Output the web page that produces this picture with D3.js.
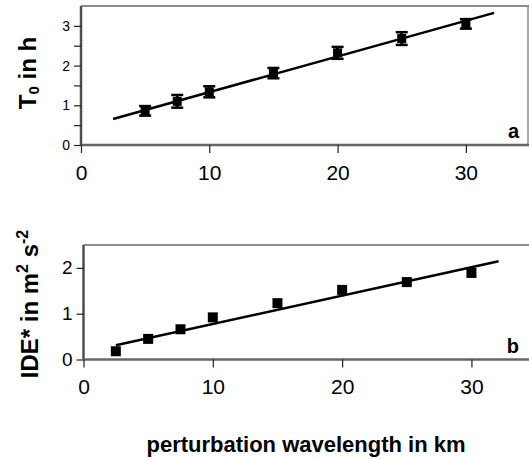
<!DOCTYPE html>
<html>
<head>
<meta charset="utf-8">
<script src="https://cdn.jsdelivr.net/npm/d3@7"></script>
<style>
  body { margin: 0; background: #fff; }
  svg { display: block; font-family: "Liberation Sans", Arial, sans-serif; }
</style>
</head>
<body>
<svg id="chart" width="529" height="459"></svg>
<script>
// panel a: T0 vs wavelength (with error bars)
var wlA = [5, 7.5, 10, 15, 20, 25, 30];
var t0 = [0.86, 1.10, 1.34, 1.81, 2.32, 2.68, 3.05];
var t0Err = [0.12, 0.16, 0.14, 0.13, 0.15, 0.16, 0.12];
var fitA = { slope: 0.09, intercept: 0.43, from: 2.5, to: 32.2 };

// panel b: IDE* vs wavelength
var wlB = [2.5, 5, 7.5, 10, 15, 20, 25, 30];
var ide = [0.18, 0.45, 0.66, 0.92, 1.23, 1.52, 1.69, 1.89];
var fitB = { slope: 0.062, intercept: 0.155, from: 2.5, to: 32.1 };

var xTicks = [0, 10, 20, 30];
var yTicksA = [0, 0.5, 1, 1.5, 2, 2.5, 3];
var yTicksB = [0, 1, 2];

var svg = d3.select("#chart");

function panel(opt) {
  var x = d3.scaleLinear().domain([0, 35]).range([opt.left, opt.left + 449 * opt.xs]);
  var y = d3.scaleLinear().domain([0, opt.ymax]).range([opt.bottom, opt.top]);
  var g = svg.append("g");

  // frame (top / right)
  g.append("line").attr("x1", opt.left).attr("x2", 529).attr("y1", opt.top).attr("y2", opt.top)
    .attr("stroke", "#8c8c8c").attr("stroke-width", 2);
  if (opt.rightBorder) {
    g.append("line").attr("x1", 528).attr("x2", 528).attr("y1", opt.top).attr("y2", opt.bottom)
      .attr("stroke", "#8c8c8c").attr("stroke-width", 1.5);
  }

  // y axis
  var ya = g.append("g").attr("transform", "translate(" + opt.left + ",0)")
    .call(d3.axisLeft(y).tickValues(opt.yTicks).tickSize(7).tickPadding(4)
      .tickFormat(function(d) { return d % 1 === 0 ? d : ""; }));
  ya.select(".domain").attr("stroke", "#4d4d4d").attr("stroke-width", 2.5)
    .attr("d", "M0," + opt.bottom + "V" + opt.top);
  ya.selectAll(".tick line").attr("stroke", "#222").attr("stroke-width", 1.2);
  ya.selectAll(".tick text").attr("font-size", opt.yFont).attr("fill", "#000");

  // x axis
  var xa = g.append("g").attr("transform", "translate(0," + opt.bottom + ")")
    .call(d3.axisBottom(x).tickValues(xTicks).tickSize(8).tickPadding(opt.xPad));
  xa.select(".domain").attr("stroke", "#666").attr("stroke-width", 2.5)
    .attr("d", "M" + opt.left + ",0H529");
  xa.selectAll(".tick line").attr("stroke", "#222").attr("stroke-width", 1.2);
  xa.selectAll(".tick text").attr("font-size", 21).attr("fill", "#000");

  // trend line
  g.append("line")
    .attr("x1", x(opt.fit.from)).attr("y1", y(opt.fit.intercept + opt.fit.slope * opt.fit.from))
    .attr("x2", x(opt.fit.to)).attr("y2", y(opt.fit.intercept + opt.fit.slope * opt.fit.to))
    .attr("stroke", "#000").attr("stroke-width", 2.5);

  // error bars
  if (opt.err) {
    var eb = g.selectAll(".err").data(opt.xs_data).enter().append("g");
    eb.append("line")
      .attr("x1", function(d) { return x(d); }).attr("x2", function(d) { return x(d); })
      .attr("y1", function(d, i) { return y(opt.ys[i] - opt.err[i]); })
      .attr("y2", function(d, i) { return y(opt.ys[i] + opt.err[i]); })
      .attr("stroke", "#000").attr("stroke-width", 3);
    [-1, 1].forEach(function(s) {
      eb.append("line")
        .attr("x1", function(d) { return x(d) - 6; }).attr("x2", function(d) { return x(d) + 6; })
        .attr("y1", function(d, i) { return y(opt.ys[i] + s * opt.err[i]); })
        .attr("y2", function(d, i) { return y(opt.ys[i] + s * opt.err[i]); })
        .attr("stroke", "#000").attr("stroke-width", 2.5);
    });
  }

  // markers
  g.selectAll(".pt").data(opt.xs_data).enter().append("rect")
    .attr("x", function(d) { return x(d) - opt.ms / 2; })
    .attr("y", function(d, i) { return y(opt.ys[i]) - opt.ms / 2; })
    .attr("width", opt.ms).attr("height", opt.ms)
    .attr("fill", "#000");

  // panel letter
  g.append("text").attr("x", 519).attr("y", opt.letterY).attr("text-anchor", "end")
    .attr("font-size", 20).attr("font-weight", "bold").text(opt.letter);
}

panel({ left: 81, top: 6, bottom: 145, ymax: 3.5, xs: 1, yTicks: yTicksA, yFont: 14, xPad: 12,
  xs_data: wlA, ys: t0, err: t0Err, fit: fitA, ms: 9, letter: "a", letterY: 138, rightBorder: true });
panel({ left: 83.5, top: 245, bottom: 359.5, ymax: 2.5, xs: 1.008, yTicks: yTicksB, yFont: 19, xPad: 12,
  xs_data: wlB, ys: ide, err: null, fit: fitB, ms: 10, letter: "b", letterY: 353, rightBorder: false });

// y labels
var ylA = svg.append("text").attr("transform", "translate(36,73) rotate(-90)")
  .attr("text-anchor", "middle").attr("font-size", 24).attr("font-weight", "bold");
ylA.append("tspan").text("T");
ylA.append("tspan").attr("font-size", 15).attr("dy", 3).text("0");
ylA.append("tspan").attr("dy", -3).text(" in h");

var ylB = svg.append("text").attr("transform", "translate(38,304) rotate(-90)")
  .attr("text-anchor", "middle").attr("font-size", 24).attr("font-weight", "bold");
ylB.append("tspan").text("IDE* in m");
ylB.append("tspan").attr("font-size", 16).attr("dy", -10).text("2");
ylB.append("tspan").attr("dy", 10).text(" s");
ylB.append("tspan").attr("font-size", 16).attr("dy", -10).text("-2");

// x label
svg.append("text").attr("x", 306).attr("y", 452).attr("text-anchor", "middle")
  .attr("font-size", 22).attr("font-weight", "bold").text("perturbation wavelength in km");
</script>
</body>
</html>
